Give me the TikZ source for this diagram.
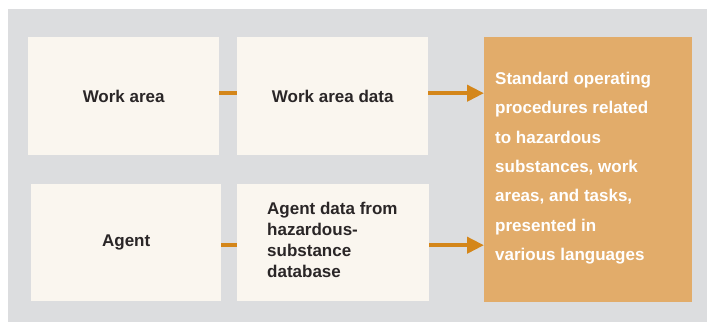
\documentclass[tikz,border=0pt]{standalone}
\usepackage{fontspec}
\setmainfont{Liberation Sans}
\usetikzlibrary{arrows.meta,calc}
\definecolor{bggray}{HTML}{DCDDDF}
\definecolor{cream}{HTML}{FAF6EF}
\definecolor{orangebox}{HTML}{E2AC6A}
\definecolor{arrowc}{HTML}{D4861A}
\definecolor{darktext}{HTML}{2A2627}
\begin{document}
\begin{tikzpicture}[x=1pt,y=-1pt,
  box/.style={fill=cream,draw=none,inner sep=0pt,anchor=north west,
    text=darktext,font=\bfseries\fontsize{17}{21}\selectfont},
  conn/.style={draw=arrowc,line width=4pt},
  arr/.style={conn,-{Triangle[length=17pt,width=16pt]}}]
\useasboundingbox (0,0) rectangle (707,322);
\fill[white] (0,0) rectangle (707,322);
\fill[bggray] (8,9) rectangle (707,322);
\node[box,minimum width=191pt,minimum height=118pt] (b1) at (28,37) {Work area};
\node[box,minimum width=191pt,minimum height=118pt] (b2) at (237,37) {Work area data};
\node[box,minimum width=190pt,minimum height=117pt] (b4) at (31,184) {Agent};
\node[box,minimum width=192pt,minimum height=117pt] (b5) at (237,184) {};
\node[anchor=west,inner sep=0pt,align=left,text=darktext,font=\bfseries\fontsize{17}{21}\selectfont] (t5) at (267,240)
  {Agent data from\\hazardous-\\substance\\database};
\node[box,fill=orangebox,minimum width=208pt,minimum height=265pt] (b3) at (484,37) {};
\node[anchor=north west,inner sep=0pt,align=left,text=white,font=\bfseries\fontsize{17}{29.3}\selectfont] (t3) at (495,72)
  {Standard operating\\procedures related\\to hazardous\\substances, work\\areas, and tasks,\\presented in\\various languages};
\coordinate (r1) at ([yshift=3pt]b2.east);
\coordinate (r2) at ([yshift=-2.5pt]b5.east);
\draw[conn] ([yshift=3pt]b1.east) -- ([yshift=3pt]b2.west);
\draw[conn] ([yshift=-2.5pt]b4.east) -- ([yshift=-2.5pt]b5.west);
\draw[arr] (r1) -- (r1 -| b3.west);
\draw[arr] (r2) -- (r2 -| b3.west);
\end{tikzpicture}
\end{document}
